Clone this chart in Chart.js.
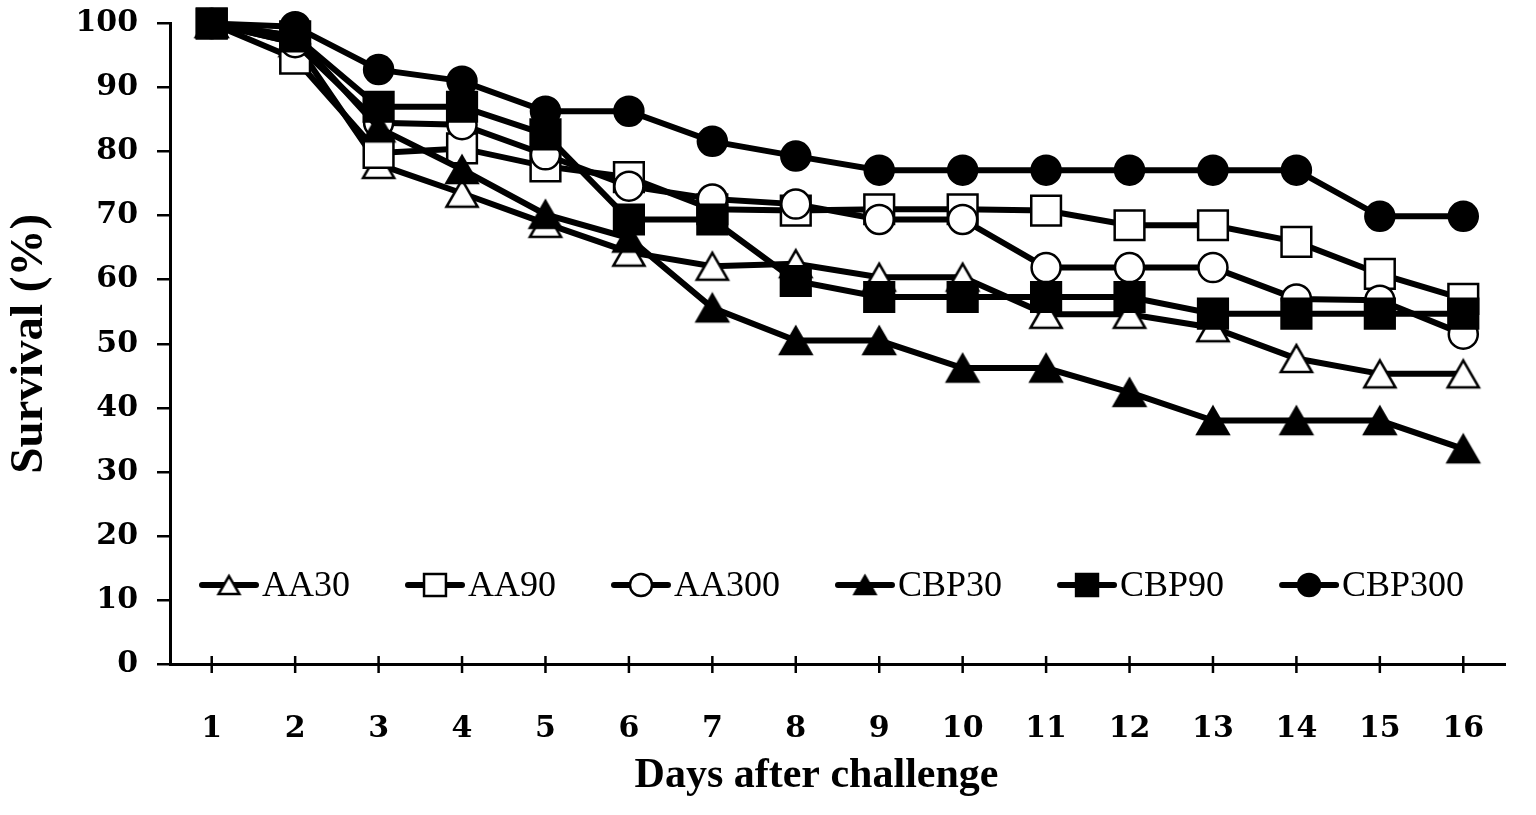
<!DOCTYPE html>
<html>
<head>
<meta charset="utf-8">
<script src="https://cdn.jsdelivr.net/npm/chart.js@4.4.0/dist/chart.umd.min.js"></script>
<style>
  html, body { margin: 0; padding: 0; background: #fff; }
  #wrap { width: 1536px; height: 815px; }
</style>
</head>
<body>
<div id="wrap"><canvas id="survivalChart"></canvas></div>
<script>
// ── data ──
const days = ['1', '2', '3', '4', '5', '6', '7', '8', '9', '10', '11', '12', '13', '14', '15', '16'];
const seriesNames = ['AA30', 'AA90', 'AA300', 'CBP30', 'CBP90', 'CBP300'];

const aa30   = [100, 97, 78, 73.5, 68.8, 64.3, 62.1, 62.5, 60.4, 60.4, 54.6, 54.6, 52.5, 47.7, 45.3, 45.3];
const aa90   = [100, 94.5, 79.8, 80.5, 77.7, 76, 71, 70.8, 71, 71, 70.8, 68.5, 68.5, 65.9, 60.9, 57];
const aa300  = [100, 97, 84.5, 84.2, 79.5, 74.6, 72.6, 71.8, 69.4, 69.4, 61.9, 61.9, 61.9, 57, 56.8, 51.5];
const cbp30  = [100, 98, 83.7, 77.2, 70.2, 66.5, 55.6, 50.5, 50.5, 46.2, 46.2, 42.4, 38, 38, 38, 33.6];
const cbp90  = [100, 98, 87, 87, 82.7, 69.4, 69.4, 59.8, 57.3, 57.3, 57.3, 57.3, 54.7, 54.7, 54.7, 54.7];
const cbp300 = [100, 99.5, 92.8, 91, 86.3, 86.3, 81.6, 79.3, 77.1, 77.1, 77.1, 77.1, 77.1, 77.1, 69.9, 69.9];

const seriesValues = [aa30, aa90, aa300, cbp30, cbp90, cbp300];
const yTicks = [0, 10, 20, 30, 40, 50, 60, 70, 80, 90, 100];

// ── marker look per series ──
const markerShape  = ['triangle', 'rect', 'circle', 'triangle', 'rect', 'circle'];
const markerFilled = [false, false, false, true, true, true];
const markerRadius = { triangle: 18, rect: 21, circle: 14.5 };
const legendRadius = { triangle: 12, rect: 15.5, circle: 11 };

// triangle centred on its bounding box (the built-in one sits on its centroid)
function triangleImage(r, fill) {
  const w = 2 * r * Math.sin(Math.PI / 3), h = 1.5 * r, pad = 3;
  const c = document.createElement('canvas');
  c.width = Math.ceil(w + pad * 2);
  c.height = Math.ceil(h + pad * 2);
  const cx = c.getContext('2d');
  cx.beginPath();
  cx.moveTo(c.width / 2, c.height / 2 - h / 2);
  cx.lineTo(c.width / 2 + w / 2, c.height / 2 + h / 2);
  cx.lineTo(c.width / 2 - w / 2, c.height / 2 + h / 2);
  cx.closePath();
  cx.fillStyle = fill;
  cx.fill();
  cx.lineWidth = 2.5;
  cx.lineJoin = 'miter';
  cx.strokeStyle = '#000';
  cx.stroke();
  return c;
}

function drawMarker(ctx, shape, x, y, r, fill) {
  if (shape === 'triangle') {
    const img = triangleImage(r, fill);
    ctx.drawImage(img, x - img.width / 2, y - img.height / 2);
    return;
  }
  ctx.beginPath();
  if (shape === 'circle') {
    ctx.arc(x, y, r, 0, Math.PI * 2);
  } else {
    const s = Math.SQRT1_2 * r;
    ctx.rect(x - s, y - s, 2 * s, 2 * s);
  }
  ctx.fillStyle = fill;
  ctx.fill();
  ctx.lineWidth = 2.5;
  ctx.strokeStyle = '#000';
  ctx.stroke();
}

// x-axis tick marks cross the axis line
const crossTicks = {
  id: 'crossTicks',
  afterDraw(chart) {
    const { ctx, chartArea } = chart;
    const x = chart.scales.x;
    ctx.save();
    ctx.strokeStyle = '#000';
    ctx.lineWidth = 2.5;
    x.ticks.forEach((t, i) => {
      const px = x.getPixelForTick(i);
      ctx.beginPath();
      ctx.moveTo(px, chartArea.bottom - 8);
      ctx.lineTo(px, chartArea.bottom + 9);
      ctx.stroke();
    });
    ctx.restore();
  }
};

// legend drawn in one row inside the plot, near the bottom
const rowLegend = {
  id: 'rowLegend',
  afterDatasetsDraw(chart) {
    const { ctx, chartArea } = chart;
    const y = chartArea.bottom - 79;
    let x = chartArea.left + 32;
    ctx.save();
    ctx.font = '36px "Liberation Serif", "Times New Roman", serif';
    ctx.textBaseline = 'middle';
    chart.data.datasets.forEach((ds, i) => {
      ctx.strokeStyle = '#000';
      ctx.lineWidth = 6;
      ctx.lineCap = 'round';
      ctx.beginPath();
      ctx.moveTo(x, y);
      ctx.lineTo(x + 54, y);
      ctx.stroke();
      drawMarker(ctx, markerShape[i], x + 27, y, legendRadius[markerShape[i]], markerFilled[i] ? '#000' : '#fff');
      ctx.fillStyle = '#000';
      ctx.fillText(ds.label, x + 60, y + 2);
      x += 60 + ctx.measureText(ds.label).width + 58;
    });
    ctx.restore();
  }
};

const tickFont = { family: '"DejaVu Serif", serif', weight: 'bold', size: 30 };

new Chart(document.getElementById('survivalChart'), {
  type: 'line',
  data: {
    labels: days,
    datasets: seriesNames.map((name, i) => {
      const shape = markerShape[i];
      const fill = markerFilled[i] ? '#000' : '#fff';
      return {
        label: name,
        data: seriesValues[i],
        borderColor: '#000',
        borderWidth: 6,
        tension: 0,
        pointStyle: shape === 'triangle' ? triangleImage(markerRadius.triangle, fill) : shape,
        pointRadius: markerRadius[shape],
        pointBackgroundColor: fill,
        pointBorderColor: '#000',
        pointBorderWidth: 2.5,
        clip: false,
        order: seriesNames.length - i
      };
    })
  },
  options: {
    responsive: true,
    maintainAspectRatio: false,
    animation: false,
    layout: { padding: { top: 22, right: 31, left: 0, bottom: 0 } },
    plugins: { legend: { display: false }, tooltip: { enabled: false } },
    scales: {
      x: {
        type: 'category',
        offset: true,
        grid: { display: false, drawTicks: false },
        border: { color: '#000', width: 3 },
        ticks: { color: '#000', font: tickFont, padding: 47, maxRotation: 0 },
        title: {
          display: true,
          text: 'Days after challenge    ',   // trailing spaces nudge it left like the original
          color: '#000',
          font: { family: '"Liberation Serif", "Times New Roman", serif', weight: 'bold', size: 42 },
          padding: { top: 0, bottom: 14 }
        },
        afterFit: s => { s.height = 151; }
      },
      y: {
        min: 0,
        max: 100,
        afterBuildTicks: s => { s.ticks = yTicks.map(v => ({ value: v })); },
        grid: { drawOnChartArea: false, drawTicks: true, tickLength: 13, color: '#000', lineWidth: 2.5 },
        border: { color: '#000', width: 3 },
        ticks: { color: '#000', font: tickFont, padding: 19 },
        title: {
          display: true,
          text: 'Survival (%)',
          color: '#000',
          font: { family: '"Liberation Serif", "Times New Roman", serif', weight: 'bold', size: 47 },
          padding: { top: 2, bottom: 0 }
        },
        afterFit: s => { s.width = 170; s.paddingTop = 0; s.paddingBottom = 0; }
      }
    }
  },
  plugins: [crossTicks, rowLegend]
});
</script>
</body>
</html>
